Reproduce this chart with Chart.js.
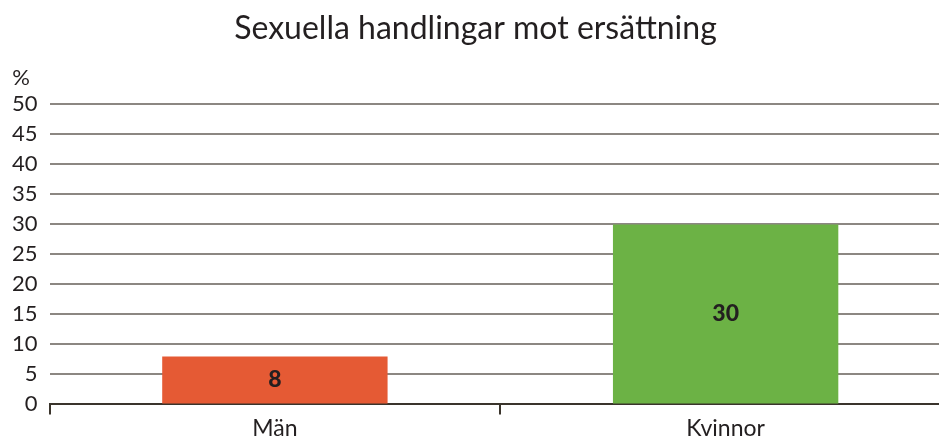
<!DOCTYPE html>
<html>
<head>
<meta charset="utf-8">
<script src="https://cdn.jsdelivr.net/npm/chart.js@4/dist/chart.umd.min.js"></script>
<style>
  html, body { margin: 0; padding: 0; background: #fff; overflow: hidden; }
  #wrap { width: 951px; height: 442px; }
</style>
</head>
<body>
<div id="wrap"><canvas id="myChart"></canvas></div>
<script>
var categories = ['Män', 'Kvinnor'];
var values = [8, 30];
var barColors = ['#E55A34', '#6CB245'];
var yTicks = [0, 5, 10, 15, 20, 25, 30, 35, 40, 45, 50];

var textColor = '#231f20';
var fontFamily = 'Lato, "Open Sans", sans-serif';

// value labels inside bars and the "%" unit above the y axis
var labelPlugin = {
    id: 'barLabels',
    afterDatasetsDraw: function(chart) {
        var ctx = chart.ctx;
        var meta = chart.getDatasetMeta(0);
        ctx.save();
        ctx.fillStyle = textColor;
        ctx.font = '900 23px ' + fontFamily;
        ctx.textAlign = 'center';
        ctx.textBaseline = 'middle';
        meta.data.forEach(function(bar, i) {
            var p = bar.getProps(['x', 'y', 'base'], true);
            ctx.fillText(values[i], p.x, (p.y + p.base) / 2);
        });
        ctx.font = '22px ' + fontFamily;
        ctx.fillText('%', 21, chart.chartArea.top - 26);
        ctx.restore();
    }
};

window.onload = function() {
    var ctx = document.getElementById('myChart').getContext('2d');
    var chart = new Chart(ctx, {
        type: 'bar',
        data: {
            labels: categories,
            datasets: [{
                data: values,
                backgroundColor: barColors,
                borderWidth: 0,
                barPercentage: 0.5,
                categoryPercentage: 1
            }]
        },
        options: {
            responsive: true,
            maintainAspectRatio: false,
            animation: false,
            layout: { padding: { left: 0, right: 0, top: 0, bottom: 0 } },
            plugins: {
                legend: { display: false },
                tooltip: { enabled: false },
                title: {
                    display: true,
                    text: 'Sexuella handlingar mot ersättning',
                    color: textColor,
                    font: { family: fontFamily, size: 32, weight: 'normal' },
                    padding: { top: 9, bottom: 57 }
                }
            },
            scales: {
                x: {
                    grid: { drawOnChartArea: false, drawTicks: true, tickLength: 10, color: '#3a342c', lineWidth: 2 },
                    border: { display: true, color: '#3a342c', width: 2 },
                    ticks: { color: textColor, font: { family: fontFamily, size: 23 }, padding: 0 }
                },
                y: {
                    min: 0,
                    max: 50,
                    afterBuildTicks: function(scale) {
                        scale.ticks = yTicks.map(function(v) { return { value: v }; });
                    },
                    grid: { drawTicks: false, color: '#8c8782', lineWidth: 2 },
                    border: { display: false },
                    ticks: { color: textColor, font: { family: fontFamily, size: 22 }, padding: 12 }
                }
            }
        },
        plugins: [labelPlugin]
    });
};
</script>
</body>
</html>
